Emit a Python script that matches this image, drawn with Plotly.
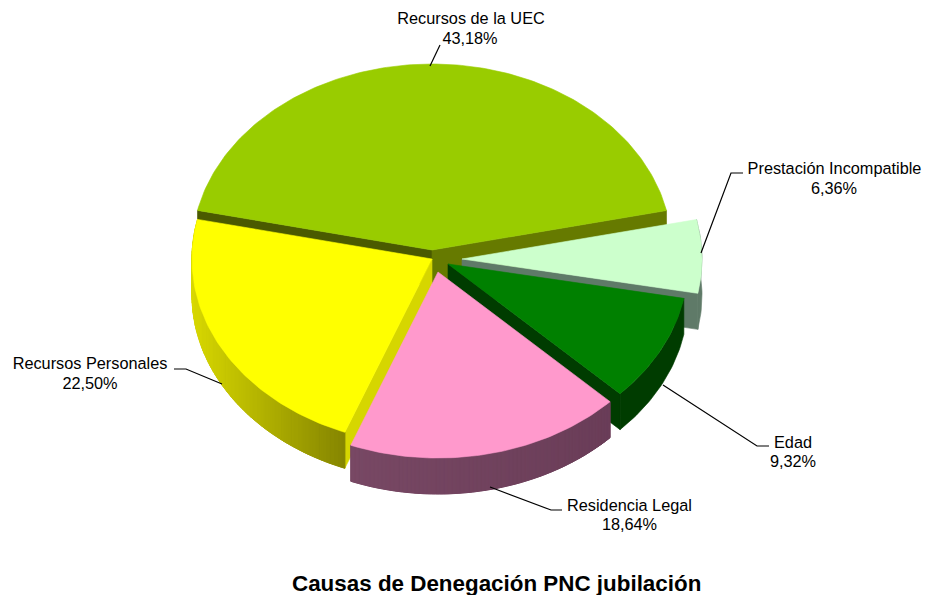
import math
import plotly.graph_objects as go

categories = ["Recursos de la UEC", "Prestación Incompatible", "Edad", "Residencia Legal", "Recursos Personales"]
values = [43.18, 6.36, 9.32, 18.64, 22.50]
title_text = "Causas de Denegación PNC jubilación"

top_colors = ["#99CC00", "#CCFFCC", "#008000", "#FF99CC", "#FFFF00"]
rim_left = ["#667A00", "#5F7A68", "#003C00", "#784864", "#D8D800"]
rim_right = ["#667A00", "#5F7A68", "#003C00", "#6A3D58", "#858500"]

# drawing geometry (page pixels)
CX, CY, RX, RY, DEPTH = 432, 250, 240, 186, 36
START = -77.7
offsets = [(0, 0), (30, 9), (16, 14), (6, 22), (0, 9)]
draw_order = [0, 1, 2, 4, 3]
leaders = [
    [(430, 66), (440, 45)],
    [(701, 253), (731, 173), (743, 173)],
    [(663, 385), (757, 446), (769, 446)],
    [(490, 487), (551, 510), (562, 510)],
    [(222, 384), (186, 369), (174, 369)],
]
FONT = 16.3
name_pos = [(471, 23), (834.5, 173), (793, 447), (629.5, 510), (90, 368)]
pct_pos = [(470, 43), (834, 193), (793, 466), (629.5, 529), (90, 388)]

total = sum(values)
spans = []
a = START
for v in values:
    b = a + v / total * 360
    spans.append((a, b))
    a = b


def pt(i, deg, depth=0):
    t = math.radians(deg)
    ox, oy = offsets[i]
    return (CX + ox + RX * math.sin(t), CY + oy - RY * math.cos(t) + depth)


def apex(i, depth=0):
    return (CX + offsets[i][0], CY + offsets[i][1] + depth)


def mix(c1, c2, f):
    p = [int(c1[k:k + 2], 16) for k in (1, 3, 5)]
    q = [int(c2[k:k + 2], 16) for k in (1, 3, 5)]
    return "rgb(%d,%d,%d)" % tuple(round(p[k] + (q[k] - p[k]) * f) for k in range(3))


fig = go.Figure()


def poly(points, color, width=0.6):
    xs = [p[0] for p in points] + [points[0][0]]
    ys = [p[1] for p in points] + [points[0][1]]
    fig.add_trace(go.Scatter(x=xs, y=ys, mode="lines", fill="toself", fillcolor=color,
                             line=dict(color=color, width=width), hoverinfo="skip", showlegend=False))


def cut(i, deg, color):
    poly([apex(i), pt(i, deg), pt(i, deg, DEPTH), apex(i, DEPTH)], color)


def rim(i, a, b):
    n = int(b - a) + 1
    arc = [pt(i, a + (b - a) * k / n) for k in range(n + 1)]
    arc2 = [pt(i, a + (b - a) * k / n, DEPTH) for k in range(n, -1, -1)]
    poly(arc + arc2, mix(rim_left[i], rim_right[i], 0.5))
    if rim_left[i] == rim_right[i]:
        return
    xs = [p[0] for p in arc]
    lo, hi = min(xs), max(xs)
    for k in range(n):
        p0, p1 = arc[k], arc[k + 1]
        f = ((p0[0] + p1[0]) / 2 - lo) / (hi - lo)
        poly([p0, p1, (p1[0], p1[1] + DEPTH), (p0[0], p0[1] + DEPTH)],
             mix(rim_left[i], rim_right[i], f), width=1)


for i in draw_order:
    a, b = spans[i]
    if i == 0:
        cut(i, a, "#4A5A00")
        cut(i, b, "#667A00")
    elif i == 1:
        cut(i, b, "#5F7A68")
        rim(i, a, b)
    elif i == 2:
        cut(i, b, "#003C00")
        rim(i, a, b)
    elif i == 3:
        rim(i, a, b)
    elif i == 4:
        cut(i, a, "#D6D600")
        rim(i, a, b)
    n = int(b - a) + 1
    arc = [pt(i, a + (b - a) * k / n) for k in range(n + 1)]
    poly([apex(i)] + arc, top_colors[i])

for path in leaders:
    fig.add_trace(go.Scatter(x=[p[0] for p in path], y=[p[1] for p in path], mode="lines",
                             line=dict(color="#000000", width=1.2), hoverinfo="skip", showlegend=False))

txtfont = dict(family="Liberation Sans", size=FONT, color="#000000")
fig.add_trace(go.Scatter(
    x=[p[0] for p in name_pos], y=[p[1] - 3.5 for p in name_pos], mode="text",
    text=categories, textposition="middle center", textfont=txtfont,
    hoverinfo="skip", showlegend=False))
fig.add_trace(go.Scatter(
    x=[p[0] for p in pct_pos], y=[p[1] - 3.5 for p in pct_pos], mode="text",
    text=[f"{v:.2f}%".replace(".", ",") for v in values], textposition="middle center", textfont=txtfont,
    hoverinfo="skip", showlegend=False))

fig.add_annotation(x=496, y=583, xref="x", yref="y", text=f"<b>{title_text}</b>", showarrow=False,
                   font=dict(family="Liberation Sans", size=22.4, color="#000000"))

fig.update_layout(
    width=925, height=595, margin=dict(l=0, r=0, t=0, b=0),
    paper_bgcolor="white", plot_bgcolor="white", showlegend=False,
    xaxis=dict(range=[0, 925], visible=False, fixedrange=True),
    yaxis=dict(range=[595, 0], visible=False, fixedrange=True),
)
fig.write_html("out.html", config=dict(displayModeBar=False),
               post_script="document.body.style.margin='0';document.body.style.overflow='hidden';")
